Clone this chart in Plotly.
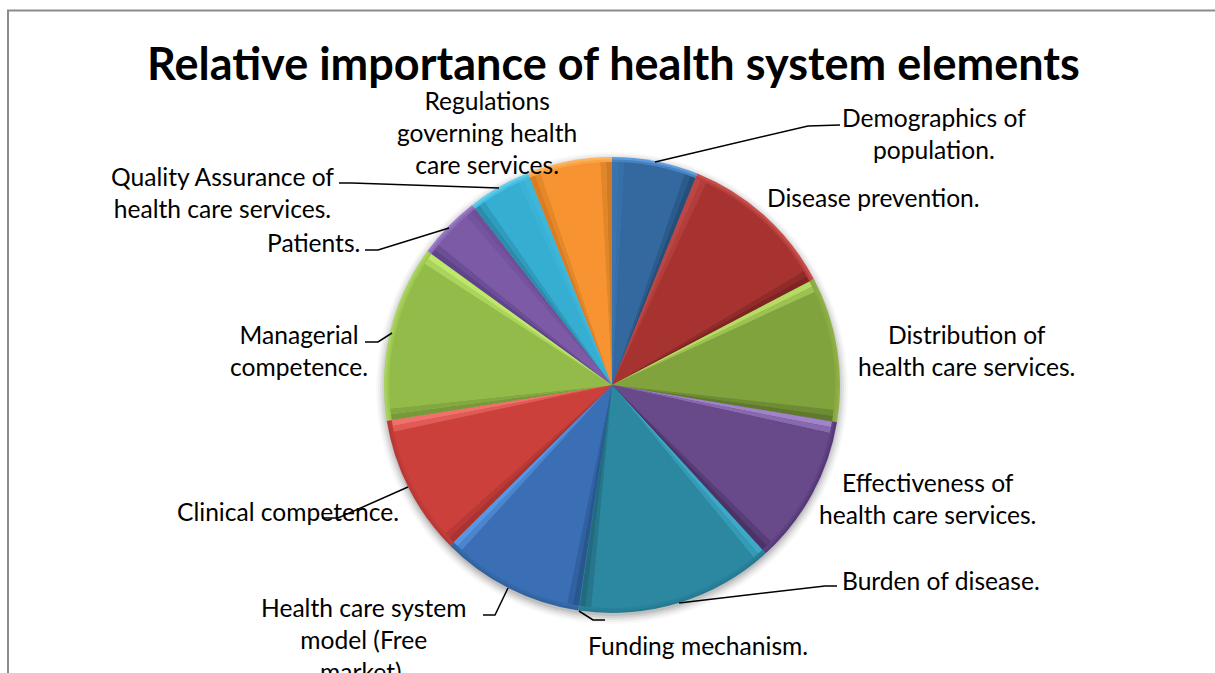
import plotly.graph_objects as go

WIDTH, HEIGHT = 1215, 673

# Pie content, clockwise from twelve o'clock
elements = [
    "Demographics of population.", "Disease prevention.",
    "Distribution of health care services.", "Effectiveness of health care services.",
    "Burden of disease.", "Funding mechanism.",
    "Health care system model (Free market).", "Clinical competence.",
    "Managerial competence.", "Patients.",
    "Quality Assurance of health care services.",
    "Regulations governing health care services.",
]
shares = [6.1, 11.2, 10.3, 10.6, 14.1, 0.05, 10.2, 9.9, 12.5, 4.5, 4.5, 6.0]

# Slice palette: flat body, outer rim, leading-edge bevel, trailing-edge bevel
body = ["#33699F", "#A63330", "#81A33D", "#684A8B", "#2C87A0", "#2C87A0",
        "#3A6FB5", "#CC403C", "#93BB4A", "#7C5AA6", "#35AED2", "#F79431"]
rim = ["#5E9BDF", "#C84E4B", "#8FB045", "#56397A", "#267B92", "#267B92",
       "#32639F", "#B83835", "#A9D45B", "#9A78C6", "#5CCDF0", "#FBB35C"]
lead = ["#3A74B0", "#BB4643", "#B4DC63", "#A083C8", "#3DA9C6", "#3DA9C6",
        "#2A5690", "#A83431", "#76993A", "#5E4488", "#2A8DAB", "#D97C22"]
trail = ["#254F7A", "#7E2523", "#5F7A2C", "#4A3366", "#226A7E", "#226A7E",
         "#5A96E0", "#F0706C", "#BFE86A", "#6E4F98", "#3DB6DA", "#D07A24"]

# Label text blocks: text, x and y of the block centre in page pixels
label_lines = [
    ("Demographics of<br>population.", 934, 134),
    ("Disease prevention.", 873, 197),
    ("Distribution of<br>health care services.", 967, 350),
    ("Effectiveness of<br>health care services.", 927, 498),
    ("Burden of disease.", 941, 580),
    ("Funding mechanism.", 698, 645),
    ("Health care system<br>model (Free<br>market).", 363, 639),
    ("Clinical competence.", 288, 511),
    ("Managerial<br>competence.", 299, 350),
    ("Patients.", 313, 242),
    ("Quality Assurance of<br>health care services.", 222, 192),
    ("Regulations<br>governing health<br>care services.", 487, 133),
]

# Leader polylines in page pixels
leaders = [
    [(655, 162), (808, 126), (840, 125)],
    [(339, 183), (352, 183), (499, 188)],
    [(365, 250), (378, 250), (449, 228)],
    [(365, 342), (378, 342), (392, 333)],
    [(322, 518), (338, 518), (408, 487)],
    [(483, 615), (495, 615), (508, 588)],
    [(579, 611), (593, 620), (605, 620)],
    [(679, 603), (825, 586), (837, 586)],
]

CX, CY, R = 612, 385, 228


def mix(a, b, t):
    """Blend two #rrggbb colours; t=0 gives a, t=1 gives b."""
    ca = [int(a[i:i + 2], 16) for i in (1, 3, 5)]
    cb = [int(b[i:i + 2], 16) for i in (1, 3, 5)]
    return "#%02X%02X%02X" % tuple(round(x + (y - x) * t) for x, y in zip(ca, cb))


def domain(radius, dy=0):
    return dict(
        x=[(CX - radius) / WIDTH, (CX + radius) / WIDTH],
        y=[1 - (CY + dy + radius) / HEIGHT, 1 - (CY + dy - radius) / HEIGHT],
    )


def pie(values, labels, colors, radius, dy=0):
    return go.Pie(
        values=values, labels=labels, sort=False, direction="clockwise",
        rotation=0, textinfo="none", showlegend=False, hoverinfo="label",
        marker=dict(colors=colors, line=dict(width=0)),
        domain=domain(radius, dy),
    )


def bevelled(radius, strip_share):
    """Split every slice into edge strips either side of a flat body."""
    values, labels, colors = [], [], []
    for name, share, b, le, tr in zip(elements, shares, body, lead, trail):
        strip = min(strip_share, share / 6)
        values += [strip, strip, share - 4 * strip, strip, strip]
        labels += [name + " a", name + " b", name, name + " c", name + " d"]
        colors += [le, mix(le, b, 0.45), b, mix(tr, b, 0.45), tr]
    return pie(values, labels, colors, radius)


fig = go.Figure()

# Soft drop shadow under the disc
for grow, alpha in [(8, 0.025), (6, 0.04), (4, 0.05), (2, 0.07), (0, 0.09)]:
    fig.add_trace(pie([1], ["shadow %d" % grow], ["rgba(0,0,0,%.3f)" % alpha], R + grow, 3))

# Rim rings fading towards the slice colour, then the bevelled faces
fig.add_trace(pie(shares, elements, rim, R))
fig.add_trace(pie(shares, [e + " rim" for e in elements],
                  [mix(r, b, 0.5) for r, b in zip(rim, body)], R - 2.5))
fig.add_trace(bevelled(R - 5, 0.42))


def px(x, y):
    return "%f %f" % (x / WIDTH, 1 - y / HEIGHT)


# Frame of the chart area: top and left edges run off the page
shapes = [dict(type="path", xref="paper", yref="paper",
               path="M %s L %s L %s" % (px(8, 700), px(8, 10.5), px(1230, 10.5)),
               line=dict(color="#8C8C8C", width=2))]
for pts in leaders:
    shapes.append(dict(type="path", xref="paper", yref="paper",
                       path="M " + " L ".join(px(x, y) for x, y in pts),
                       line=dict(color="#000000", width=1.5)))

annotations = [dict(text="<b>Relative importance of health system elements</b>",
                    x=613 / WIDTH, y=1 - 63 / HEIGHT, xref="paper", yref="paper",
                    showarrow=False, xanchor="center", yanchor="middle",
                    font=dict(size=45, color="#000000"))]
for text, x, y in label_lines:
    annotations.append(dict(text=text, x=x / WIDTH, y=1 - y / HEIGHT,
                            xref="paper", yref="paper", showarrow=False,
                            xanchor="center", yanchor="middle", align="center",
                            font=dict(size=24.6, color="#000000")))

fig.update_layout(
    width=WIDTH, height=HEIGHT, margin=dict(l=0, r=0, t=0, b=0),
    paper_bgcolor="#FFFFFF", plot_bgcolor="#FFFFFF",
    font=dict(family="Lato, Carlito, sans-serif"),
    shapes=shapes, annotations=annotations,
)

fig.write_html("out.html")
